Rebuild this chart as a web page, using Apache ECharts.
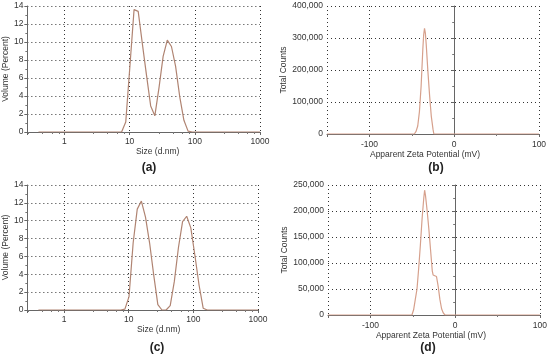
<!DOCTYPE html>
<html>
<head>
<meta charset="utf-8">
<script src="https://cdn.jsdelivr.net/npm/echarts@6/dist/echarts.min.js"></script>
<style>html,body{margin:0;padding:0;background:#fff}#c{width:550px;height:357px}</style>
</head>
<body>
<div id="c"></div>
<script>
// Panel (a): size distribution by volume
const sizesA = [0.4, 7.531, 8.721, 10.10, 11.70, 13.54, 15.69, 18.17, 21.04, 24.36, 28.21, 32.67, 37.84, 43.82, 50.75, 58.77, 68.06, 78.82, 91.28, 1000];
const volumeA = [0, 0, 1.1, 7.3, 13.6, 13.4, 9.8, 6.3, 2.9, 1.8, 4.9, 8.4, 10.2, 9.5, 7.3, 3.9, 1.3, 0.1, 0, 0];
// Panel (c): size distribution by volume
const sizesC = [0.4, 7.531, 8.721, 10.10, 11.70, 13.54, 15.69, 18.17, 21.04, 24.36, 28.21, 32.67, 37.84, 43.82, 50.75, 58.77, 68.06, 78.82, 91.28, 105.7, 122.4, 141.8, 164.2, 1000];
const volumeC = [0, 0, 0.1, 1.5, 7.5, 11.3, 12.2, 10.4, 7.5, 3.9, 0.6, 0, 0, 0.5, 3.2, 7.0, 9.9, 10.5, 9.2, 6.1, 2.8, 0.2, 0, 0];
// Panel (b): zeta potential distribution
const zetaB = [-150, -47, -45, -43, -41, -39, -37, -36, -35, -34, -33, -31, -29, -27, -25, -24, 100];
const countsB = [0, 0, 8000, 25000, 70000, 150000, 265000, 310000, 330000, 315000, 280000, 195000, 120000, 55000, 15000, 0, 0];
// Panel (d): zeta potential distribution
const zetaD = [-150, -51, -49, -47, -45, -43, -41, -39, -37, -36, -35, -33, -31, -29, -27, -26, -24, -22, -20, -18, -16, -14, -12, 100];
const countsD = [0, 0, 10000, 30000, 50000, 90000, 135000, 185000, 225000, 240000, 230000, 200000, 165000, 125000, 85000, 77000, 75000, 74000, 55000, 30000, 12000, 4000, 0, 0];
// Axis ticks / labels
const sizeTicks = [1, 10, 100, 1000];
const volumeTicks = [0, 2, 4, 6, 8, 10, 12, 14];
const zetaTicks = [-100, 0, 100];
const countTicksB = [0, 100000, 200000, 300000, 400000];
const countTicksD = [0, 50000, 100000, 150000, 200000, 250000];
const captions = ['(a)', '(b)', '(c)', '(d)'];

const FONT = 'Liberation Sans';
const txt = {fontFamily: FONT, fontSize: 8.5, color: '#333'};
const gridLine = {show: true, lineStyle: {color: '#333', width: 1, type: [1, 3]}};
const axLine = {show: true, lineStyle: {color: '#666', width: 1}};
const tick = {show: true, length: 3, lineStyle: {color: '#666'}};
const minor = (n) => ({show: true, splitNumber: n, length: 2, lineStyle: {color: '#777'}});
const sizeColor = '#b08472';
const zetaColor = '#d6a08c';

function pairs(xs, ys) { return xs.map((x, i) => [x, ys[i]]); }
function fmtNum(v) { return Math.round(v).toLocaleString('en-US'); }

function sizeX(gridIndex, shift) {
  return {
    type: 'log', gridIndex, min: 0.27, max: 1000, logBase: 10,
    axisLine: axLine, axisTick: tick, minorTick: minor(5), splitLine: gridLine,
    axisLabel: Object.assign({}, txt, {margin: 5, showMinLabel: false,
      formatter: v => { const r = Math.round(v); return sizeTicks.includes(r) ? String(r) : ''; }}),
    name: 'Size (d.nm)', nameLocation: 'middle', nameGap: 13,
    nameTextStyle: Object.assign({}, txt, {padding: [0, 0, 0, shift]})
  };
}
function volY(gridIndex) {
  return {
    type: 'value', gridIndex, min: volumeTicks[0], max: volumeTicks[volumeTicks.length - 1], interval: 2,
    axisLine: axLine, axisTick: tick, minorTick: minor(2), splitLine: gridLine,
    axisLabel: Object.assign({}, txt, {margin: 4}),
    name: 'Volume (Percent)', nameLocation: 'middle', nameGap: 16, nameRotate: 90,
    nameTextStyle: txt
  };
}
function zetaX(gridIndex, padR) {
  return {
    type: 'value', gridIndex, min: -150, max: zetaTicks[zetaTicks.length - 1], splitNumber: 2,
    axisLine: axLine, axisTick: tick, minorTick: minor(2), splitLine: gridLine,
    axisLabel: Object.assign({}, txt, {margin: 6, showMinLabel: false,
      formatter: v => zetaTicks.includes(v) ? String(v) : ''}),
    name: 'Apparent Zeta Potential (mV)', nameLocation: 'middle', nameGap: 13,
    nameTextStyle: Object.assign({}, txt, {padding: [0, padR, 0, 0]})
  };
}
function countY(gridIndex, ticks, gap) {
  return {
    type: 'value', gridIndex, min: ticks[0], max: ticks[ticks.length - 1], interval: ticks[1] - ticks[0],
    axisLine: axLine, axisTick: tick, minorTick: minor(2), splitLine: gridLine,
    axisLabel: Object.assign({}, txt, {margin: 4, formatter: fmtNum}),
    name: 'Total Counts', nameLocation: 'middle', nameGap: gap, nameRotate: 90,
    nameTextStyle: txt
  };
}
function line(xi, data, color) {
  return {type: 'line', xAxisIndex: xi, yAxisIndex: xi, data, showSymbol: false, symbol: 'none',
    smooth: false, lineStyle: {color, width: 1.2}, silent: true, animation: false};
}
function caption(text, x, y) {
  return {type: 'text', style: {text, x, y, textAlign: 'center', textVerticalAlign: 'middle',
    font: 'bold 12px "Liberation Sans"', fill: '#222'}};
}

const chart = echarts.init(document.getElementById('c'), null, {renderer: 'canvas'});
chart.setOption({
  animation: false,
  backgroundColor: '#fff',
  grid: [
    {left: 26, top: 6, width: 234, height: 126},
    {left: 327, top: 6, width: 212, height: 128},
    {left: 26, top: 185, width: 232, height: 125},
    {left: 328, top: 185, width: 213, height: 130}
  ],
  xAxis: [sizeX(0, 28), zetaX(1, 16), sizeX(2, 32), zetaX(3, 6)],
  yAxis: [volY(0), countY(1, countTicksB, 38), volY(2), countY(3, countTicksD, 37)],
  series: [
    line(0, pairs(sizesA, volumeA), sizeColor),
    line(1, pairs(zetaB, countsB), zetaColor),
    line(2, pairs(sizesC, volumeC), sizeColor),
    line(3, pairs(zetaD, countsD), zetaColor)
  ],
  graphic: [
    caption(captions[0], 149, 168),
    caption(captions[1], 436, 168),
    caption(captions[2], 157, 348),
    caption(captions[3], 428, 348)
  ]
});
</script>
</body>
</html>
